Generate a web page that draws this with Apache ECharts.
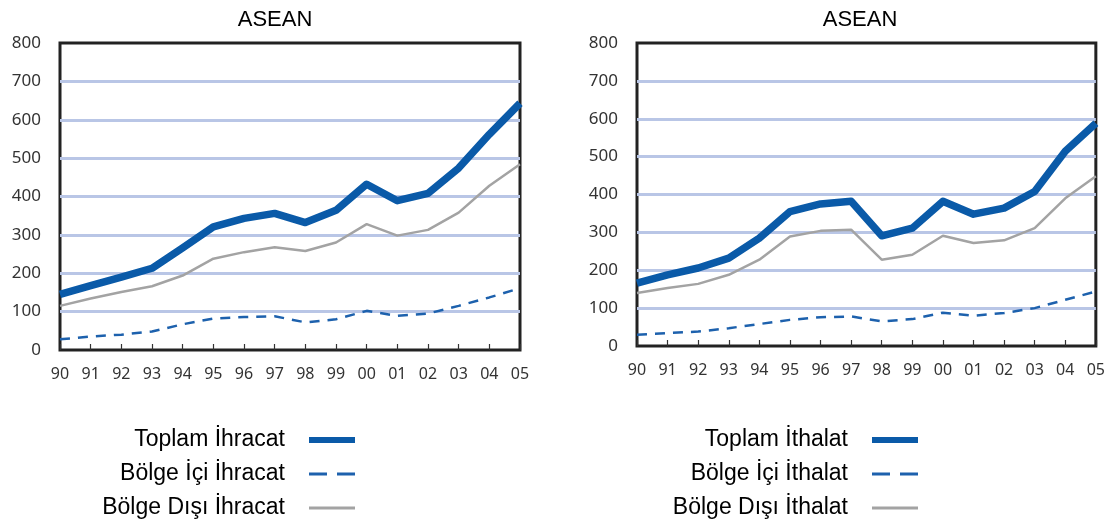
<!DOCTYPE html>
<html>
<head>
<meta charset="utf-8">
<script src="https://cdn.jsdelivr.net/npm/echarts@6/dist/echarts.min.js"></script>
<style>
  html, body { margin: 0; padding: 0; background: #fff; }
  #chart { width: 1108px; height: 525px; }
</style>
</head>
<body>
<div id="chart"></div>
<script>
const years = ['90', '91', '92', '93', '94', '95', '96', '97', '98', '99', '00', '01', '02', '03', '04', '05']

// İhracat (left)
const toplamIhracat = [145, 168, 190, 213, 266, 321, 343, 356, 332, 364, 432, 389, 408, 474, 562, 643]
const iciIhracat = [28, 35, 40, 48, 67, 82, 86, 88, 72, 80, 102, 89, 95, 115, 137, 161]
const disiIhracat = [115, 134, 151, 166, 194, 238, 255, 268, 258, 280, 328, 298, 313, 358, 428, 484]

// İthalat (right)
const toplamIthalat = [166, 188, 206, 232, 285, 355, 375, 382, 291, 311, 382, 348, 364, 408, 514, 588]
const iciIthalat = [30, 34, 38, 47, 58, 69, 76, 78, 65, 71, 88, 80, 87, 100, 122, 144]
const disiIthalat = [140, 153, 164, 188, 228, 289, 304, 307, 228, 241, 291, 272, 279, 311, 390, 448]

const yTicks = [0, 100, 200, 300, 400, 500, 600, 700, 800]

const BLUE = '#0a5aa8'
const DASH_BLUE = '#1d61ad'
const GREY = '#a3a3a3'

const chart = echarts.init(document.getElementById('chart'))

const xAxisBase = gridIndex => ({
  type: 'category',
  gridIndex,
  data: years,
  boundaryGap: false,
  axisLine: { show: false },
  axisTick: { show: true, inside: true, length: 6, lineStyle: { color: '#333', width: 1.2 } },
  axisLabel: { color: '#333', fontSize: 16, fontFamily: 'Noto Sans', margin: 16, interval: 0 },
  splitLine: { show: false }
})

const yAxisBase = gridIndex => ({
  type: 'value',
  gridIndex,
  min: yTicks[0],
  max: yTicks[yTicks.length - 1],
  interval: 100,
  axisLine: { show: false },
  axisTick: { show: false },
  axisLabel: { color: '#333', fontSize: 17, fontFamily: 'Noto Sans', margin: 19 },
  splitLine: { showMinLine: false, showMaxLine: false, lineStyle: { color: '#b9c6e6', width: 3 } }
})

const seriesFor = (idx, names, toplam, ici, disi) => [
  {
    name: names[0], type: 'line', xAxisIndex: idx, yAxisIndex: idx, data: toplam,
    symbol: 'none', z: 5,
    lineStyle: { color: BLUE, width: 7.5, join: 'round' }, itemStyle: { color: BLUE }
  },
  {
    name: names[1], type: 'line', xAxisIndex: idx, yAxisIndex: idx, data: ici,
    symbol: 'none', z: 4,
    lineStyle: { color: DASH_BLUE, width: 2.5, type: [10, 8] }, itemStyle: { color: DASH_BLUE }
  },
  {
    name: names[2], type: 'line', xAxisIndex: idx, yAxisIndex: idx, data: disi,
    symbol: 'none', z: 3,
    lineStyle: { color: GREY, width: 2.5 }, itemStyle: { color: GREY }
  }
]

const namesL = ['Toplam İhracat', 'Bölge İçi İhracat', 'Bölge Dışı İhracat']
const namesR = ['Toplam İthalat', 'Bölge İçi İthalat', 'Bölge Dışı İthalat']

const noSymbol = { opacity: 0 }

const legendBase = (right, names) => ({
  orient: 'vertical',
  align: 'right',
  right,
  top: 428,
  padding: 0,
  itemWidth: 46,
  itemHeight: 14,
  itemGap: 10,
  selectedMode: false,
  textStyle: { color: '#000', fontSize: 23, fontFamily: 'Liberation Sans', lineHeight: 24, padding: [0, 19, 0, 0] },
  data: [
    { name: names[0], itemStyle: noSymbol, lineStyle: { width: 6, color: BLUE } },
    { name: names[1], itemStyle: noSymbol, lineStyle: { width: 3, color: DASH_BLUE, type: [18, 10] } },
    { name: names[2], itemStyle: noSymbol, lineStyle: { width: 3, color: GREY } }
  ]
})

const titleStyle = { fontSize: 22, fontWeight: 'normal', color: '#000', fontFamily: 'Liberation Sans' }

const option = {
  animation: false,
  title: [
    { text: 'ASEAN', left: 270, top: 4, textAlign: 'center', textStyle: titleStyle },
    { text: 'ASEAN', left: 855, top: 4, textAlign: 'center', textStyle: titleStyle }
  ],
  legend: [legendBase(750, namesL), legendBase(187, namesR)],
  grid: [
    { left: 60, top: 43, width: 460, height: 307, show: true, borderColor: '#222', borderWidth: 3, backgroundColor: 'transparent' },
    { left: 637, top: 43, width: 460, height: 303, show: true, borderColor: '#222', borderWidth: 3, backgroundColor: 'transparent' }
  ],
  xAxis: [xAxisBase(0), xAxisBase(1)],
  yAxis: [yAxisBase(0), yAxisBase(1)],
  series: [
    ...seriesFor(0, namesL, toplamIhracat, iciIhracat, disiIhracat),
    ...seriesFor(1, namesR, toplamIthalat, iciIthalat, disiIthalat)
  ]
}

chart.setOption(option)
</script>
</body>
</html>
